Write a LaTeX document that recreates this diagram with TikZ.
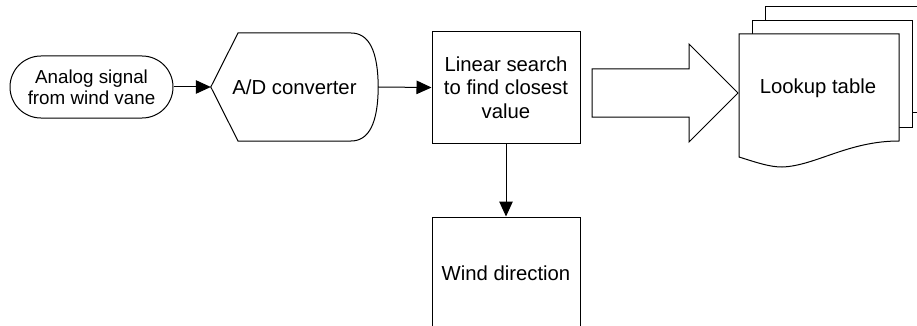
\documentclass[tikz,border=0pt]{standalone}
\usepackage{fontspec}
\setmainfont{Liberation Sans}
\usetikzlibrary{arrows.meta}
\begin{document}
\begin{tikzpicture}[x=1pt,y=-1pt]
\tikzset{
  shapeline/.style={draw=black, line width=1pt, line join=miter},
  lbl/.style={font=\fontsize{20.3}{23.5}\selectfont, align=center, text=black, inner sep=0pt},
  smalllbl/.style={font=\fontsize{18.8}{21}\selectfont},
  boxnode/.style={lbl, draw=black, line width=1pt},
  flow/.style={draw=black, line width=1pt, -{Triangle[length=15pt,width=13.5pt]}},
}
\clip (0,0) rectangle (917,326);
\fill[white] (0,0) rectangle (917,326);

% terminal
\node[boxnode, smalllbl, rounded corners=30.9pt, minimum width=163pt, minimum height=62pt] (src) at (91.5,87) {Analog signal\\from wind vane};

% display shape (A/D converter)
\node[lbl, minimum width=167pt, minimum height=108pt] (ad) at (294.5,87) {A/D converter};
\draw[shapeline] (ad.west) -- (238,33) -- (351,33) .. controls (369,33) and (378,51) .. (ad.east)
  .. controls (378,123) and (369,141) .. (351,141) -- (238,141) -- cycle;

% process
\node[boxnode, minimum width=148pt, minimum height=111pt] (search) at (506,87.5) {Linear search\\to find closest\\value};

% output box (cut at bottom)
\node[boxnode, minimum width=148pt, minimum height=112pt] (wind) at (506,273) {Wind direction};

% block arrow
\draw[shapeline] (592,69) -- (689,69) -- (689,44) -- (738,93) -- (689,142) -- (689,117) -- (592,117) -- cycle;

% multi-document
\draw[shapeline, fill=white] (765,113) -- (765,7) -- (930,7) -- (930,113) -- cycle;
\draw[shapeline, fill=white] (752,127) -- (752,21) -- (912,21) -- (912,127) -- cycle;
\draw[shapeline, fill=white] (739,157) -- (739,34) -- (899,34) -- (899,141)
  .. controls (848,141) and (815,166) .. (782,167)
  .. controls (770,167) and (758,163) .. (739,157) -- cycle;
\node[lbl] (lookup) at (818,88) {Lookup table};

% connectors
\draw[flow] (src.east) -- (ad.west);
\draw[flow] (ad.east) -- (search.west);
\draw[flow] (search.south) -- (wind.north);
\end{tikzpicture}
\end{document}
